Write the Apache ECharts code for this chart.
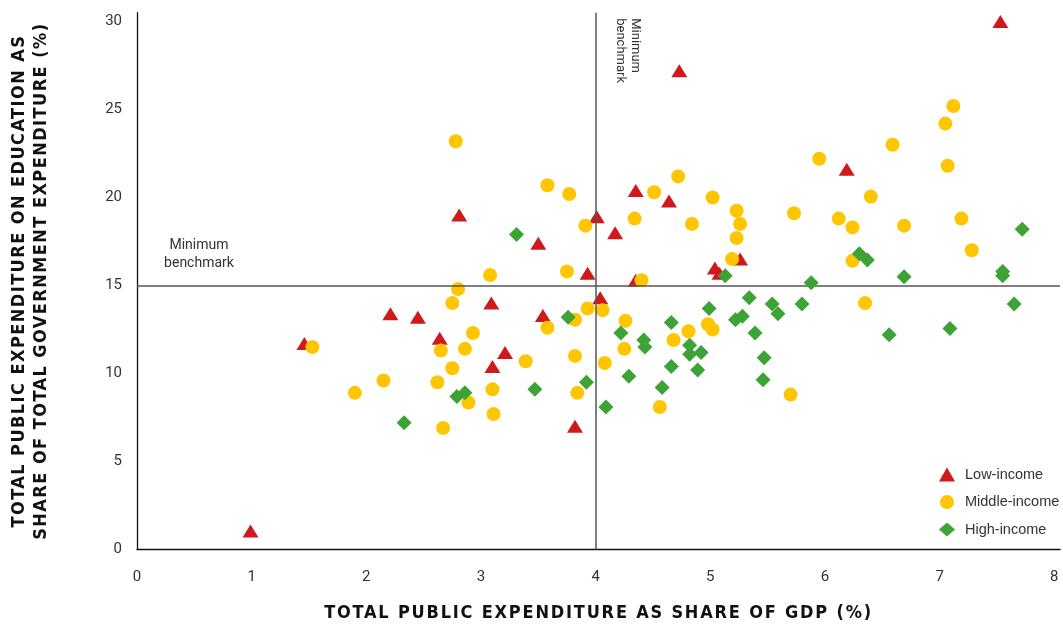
<!DOCTYPE html>
<html>
<head>
<meta charset="utf-8">
<script src="https://cdn.jsdelivr.net/npm/echarts@6/dist/echarts.min.js"></script>
<style>
html,body{margin:0;padding:0;background:#fff;}
#chart{width:1063px;height:641px;}
</style>
</head>
<body>
<div id="chart"></div>
<script>
// ---- data ----
const seriesNames = ['Low-income', 'Middle-income', 'High-income'];
const xTicks = [0, 1, 2, 3, 4, 5, 6, 7, 8];
const yTicks = [0, 5, 10, 15, 20, 25, 30];
const benchmarkX = 4;
const benchmarkY = 15;
const xTitle = 'TOTAL PUBLIC EXPENDITURE AS SHARE OF GDP (%)';
const yTitleLines = ['TOTAL PUBLIC EXPENDITURE ON EDUCATION AS', 'SHARE OF TOTAL GOVERNMENT EXPENDITURE (%)'];
const benchmarkText = 'Minimum\nbenchmark';

const lowIncome = [
  [0.99, 1.05], [1.46, 11.7], [2.21, 13.4], [2.45, 13.2], [2.64, 12.0],
  [2.81, 19.0], [3.09, 14.0], [3.10, 10.4], [3.21, 11.2], [3.50, 17.4],
  [3.54, 13.3], [3.93, 15.7], [3.82, 7.0], [4.01, 18.9], [4.04, 14.3],
  [4.17, 18.0], [4.35, 20.4], [4.64, 19.8], [4.73, 27.2], [4.35, 15.3],
  [5.04, 16.0], [5.08, 15.7], [5.26, 16.5], [6.19, 21.6], [7.53, 30.0]
];

const middleIncome = [
  [1.53, 11.5], [1.90, 8.9], [2.15, 9.6], [2.62, 9.5], [2.65, 11.3],
  [2.67, 6.9], [2.75, 14.0], [2.75, 10.3], [2.80, 14.8], [2.78, 23.2],
  [2.86, 11.4], [2.89, 8.35], [2.93, 12.3], [3.08, 15.6], [3.10, 9.1],
  [3.11, 7.7], [3.39, 10.7], [3.58, 20.7], [3.58, 12.6], [3.75, 15.8],
  [3.77, 20.2], [3.82, 13.05], [3.82, 11.0], [3.84, 8.9], [3.91, 18.4],
  [3.93, 13.7], [4.06, 13.6], [4.08, 10.6], [4.25, 11.4], [4.26, 13.0],
  [4.34, 18.8], [4.40, 15.3], [4.51, 20.3], [4.56, 8.1], [4.68, 11.9],
  [4.72, 21.2], [4.81, 12.4], [4.84, 18.5], [4.98, 12.8], [5.02, 12.5],
  [5.02, 20.0], [5.19, 16.5], [5.23, 19.25], [5.23, 17.7], [5.26, 18.5],
  [5.70, 8.8], [5.73, 19.1], [5.95, 22.2], [6.12, 18.8], [6.24, 18.3],
  [6.24, 16.4], [6.35, 14.0], [6.40, 20.05], [6.59, 23.0], [6.69, 18.4],
  [7.05, 24.2], [7.07, 21.8], [7.12, 25.2], [7.19, 18.8], [7.28, 17.0]
];

const highIncome = [
  [2.33, 7.2], [2.79, 8.7], [2.86, 8.9], [3.31, 17.9], [3.47, 9.1],
  [3.76, 13.2], [3.92, 9.5], [4.09, 8.1], [4.22, 12.3], [4.29, 9.85],
  [4.42, 11.9], [4.43, 11.5], [4.58, 9.2], [4.66, 12.9], [4.66, 10.4],
  [4.82, 11.6], [4.82, 11.1], [4.89, 10.2], [4.92, 11.2], [4.99, 13.7],
  [5.13, 15.55], [5.22, 13.05], [5.28, 13.25], [5.34, 14.3], [5.39, 12.3],
  [5.47, 10.9], [5.46, 9.65], [5.54, 13.95], [5.59, 13.4], [5.80, 13.95],
  [5.88, 15.15], [6.30, 16.8], [6.37, 16.45], [6.56, 12.2], [6.69, 15.5],
  [7.09, 12.55], [7.55, 15.8], [7.55, 15.55], [7.65, 13.95], [7.72, 18.2]
];

// letter-spaced condensed capitals for the two axis titles only
const spacing = {};
spacing[xTitle] = '1.8px';
yTitleLines.forEach(function (l) { spacing[l] = '1.45px'; });
(function () {
  const proto = CanvasRenderingContext2D.prototype;
  const orig = proto.fillText;
  proto.fillText = function (t, x, y, m) {
    const has = 'letterSpacing' in this;
    if (has) this.letterSpacing = spacing[String(t)] || '0px';
    if (m === undefined) orig.call(this, t, x, y); else orig.call(this, t, x, y, m);
    if (has) this.letterSpacing = '0px';
  };
})();

const chart = echarts.init(document.getElementById('chart'), null, { renderer: 'canvas' });

const RED = '#d0191d', YELLOW = '#ffc600', GREEN = '#3ea336';
const TITLE_FONT = "'Liberation Sans Narrow', 'DejaVu Sans Condensed', sans-serif";
const LABEL_FONT = 'Roboto, sans-serif';

const option = {
  animation: false,
  backgroundColor: '#ffffff',
  grid: { left: 135, right: 0, top: 12.7, bottom: 91.5, containLabel: false },
  legend: {
    orient: 'vertical',
    left: 934,
    top: 462,
    itemWidth: 16,
    itemHeight: 14,
    itemGap: 12.5,
    data: [
      { name: seriesNames[0], icon: 'triangle' },
      { name: seriesNames[1], icon: 'circle' },
      { name: seriesNames[2], icon: 'diamond' }
    ],
    textStyle: { color: '#333', fontSize: 14.5, fontFamily: "'Liberation Sans', Arial, sans-serif", padding: [0, 0, 0, 5] }
  },
  xAxis: {
    type: 'value',
    min: 0,
    max: 8.05,
    interval: 1,
    name: xTitle,
    nameLocation: 'middle',
    nameGap: 55,
    nameTextStyle: { fontFamily: TITLE_FONT, fontWeight: 'bold', fontSize: 18, color: '#111' },
    axisLine: { show: true, lineStyle: { color: '#111', width: 1.3 } },
    axisTick: { show: false },
    splitLine: { show: false },
    axisLabel: {
      color: '#333', fontSize: 15, fontFamily: LABEL_FONT, margin: 20,
      formatter: v => (xTicks.indexOf(v) >= 0 ? String(v) : '')
    }
  },
  yAxis: {
    type: 'value',
    min: 0,
    max: 30.5,
    interval: 5,
    name: yTitleLines.join('\n'),
    nameLocation: 'middle',
    nameRotate: 90,
    nameGap: 85,
    nameTextStyle: { fontFamily: TITLE_FONT, fontWeight: 'bold', fontSize: 18, lineHeight: 22, color: '#111' },
    axisLine: { show: true, lineStyle: { color: '#111', width: 1.3 } },
    axisTick: { show: false },
    splitLine: { show: false },
    axisLabel: {
      color: '#333', fontSize: 15, fontFamily: LABEL_FONT, margin: 15,
      formatter: v => (yTicks.indexOf(v) >= 0 ? String(v) : '')
    }
  },
  series: [
    {
      name: seriesNames[0], type: 'scatter', symbol: 'triangle', symbolSize: [16, 13],
      itemStyle: { color: RED, opacity: 1 }, data: lowIncome, z: 3,
      markLine: {
        silent: true, symbol: ['none', 'none'], animation: false,
        label: { show: false },
        lineStyle: { color: '#555', width: 1.5, type: 'solid' },
        data: [{ xAxis: benchmarkX }, { yAxis: benchmarkY }]
      }
    },
    {
      name: seriesNames[1], type: 'scatter', symbol: 'circle', symbolSize: 14,
      itemStyle: { color: YELLOW, opacity: 1 }, data: middleIncome, z: 4
    },
    {
      name: seriesNames[2], type: 'scatter', symbol: 'diamond', symbolSize: 15,
      itemStyle: { color: GREEN, opacity: 1 }, data: highIncome, z: 5
    }
  ]
};
chart.setOption(option);

// annotations anchored through the chart's own scales
const hAnchor = chart.convertToPixel({ gridIndex: 0 }, [0, benchmarkY]);
const vAnchor = chart.convertToPixel({ gridIndex: 0 }, [benchmarkX, 30.5]);
chart.setOption({
  graphic: [
    {
      type: 'text', x: hAnchor[0] + 62, y: hAnchor[1] - 31, silent: true,
      style: {
        text: benchmarkText, textAlign: 'center', textVerticalAlign: 'middle',
        font: '14px Roboto, sans-serif', lineHeight: 18.5, fill: '#333'
      }
    },
    {
      type: 'text', x: vAnchor[0] + 47, y: vAnchor[1] + 5.5, rotation: -Math.PI / 2, silent: true,
      style: {
        text: benchmarkText, textAlign: 'left', textVerticalAlign: 'top',
        font: '13px Roboto, sans-serif', lineHeight: 15, fill: '#333'
      }
    }
  ]
});
</script>
</body>
</html>
